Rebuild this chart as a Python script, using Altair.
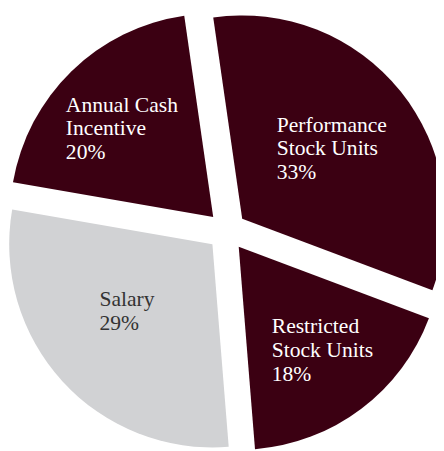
import altair as alt
import pandas as pd

# ---- data ----
categories = ["Performance Stock Units", "Restricted Stock Units", "Salary", "Annual Cash Incentive"]
values = [33, 18, 29, 20]
label_lines = [
    ["Performance", "Stock Units", "33%"],
    ["Restricted", "Stock Units", "18%"],
    ["Salary", "29%"],
    ["Annual Cash", "Incentive", "20%"],
]
line_index = [[0, 1, 2], [0, 1, 2], [0, 1], [0, 1, 2]]
order = [0, 1, 2, 3]

df = pd.DataFrame({"cat": categories, "value": values, "lines": label_lines, "li": line_index, "order": order})

# ---- layout / style ----
W, H = 436, 443
CX, CY = 223, 223
R = 207
D = 20            # explode distance
OFF = -0.1431     # start angle (radians)
LH = 24           # line height
MAROON = "#3b0012"
GRAY = "#d1d2d4"
FONT = "Liberation Serif"

base = (
    alt.Chart(df)
    .transform_joinaggregate(total="sum(value)")
    .transform_window(cum="sum(value)", sort=[alt.SortField("order")], frame=[None, 0])
    .transform_calculate(start=f"{OFF} + 2*PI*(datum.cum - datum.value)/datum.total")
    .transform_calculate(end=f"{OFF} + 2*PI*datum.cum/datum.total")
    .transform_calculate(mid="(datum.start + datum.end)/2")
    .transform_calculate(px=f"{CX} + {D}*sin(datum.mid)")
    .transform_calculate(py=f"{CY} - {D}*cos(datum.mid)")
)

arcs = base.mark_arc(radius=R).encode(
    x=alt.X("px:Q", scale=None, axis=None),
    y=alt.Y("py:Q", scale=None, axis=None),
    theta=alt.Theta("start:Q", scale=None, stack=None),
    theta2=alt.Theta2("end:Q"),
    color=alt.Color("cat:N", scale=alt.Scale(domain=categories, range=[MAROON, MAROON, GRAY, MAROON]), legend=None),
)

# per-label placement: (radius along slice bisector, dx, dy, color)
placements = {
    "Performance Stock Units": (114, -53.7, -17.0, "white"),
    "Restricted Stock Units": (135, -47.6, -19.4, "white"),
    "Salary": (112, -32.4, -12.2, "#333333"),
    "Annual Cash Incentive": (131, -58.8, -13.3, "white"),
}

texts = []
for cat, (lr, dx, dy, col) in placements.items():
    t = (
        base.transform_filter(alt.datum.cat == cat)
        .transform_flatten(["lines", "li"], as_=["line", "lineno"])
        .transform_calculate(lx=f"datum.px + {lr}*sin(datum.mid)")
        .transform_calculate(ly=f"datum.py - {lr}*cos(datum.mid) + {LH}*datum.lineno")
        .mark_text(align="left", baseline="alphabetic", dx=dx, dy=dy,
                   font=FONT, fontSize=22, color=col)
        .encode(x=alt.X("lx:Q", scale=None, axis=None), y=alt.Y("ly:Q", scale=None, axis=None), text="line:N")
    )
    texts.append(t)

chart = (
    alt.layer(arcs, *texts)
    .properties(width=W, height=H, padding=0, autosize=alt.AutoSizeParams(type="none"), background="white")
    .configure_view(stroke=None)
)

chart.save("out.html", embed_options={"renderer": "svg", "actions": False})
